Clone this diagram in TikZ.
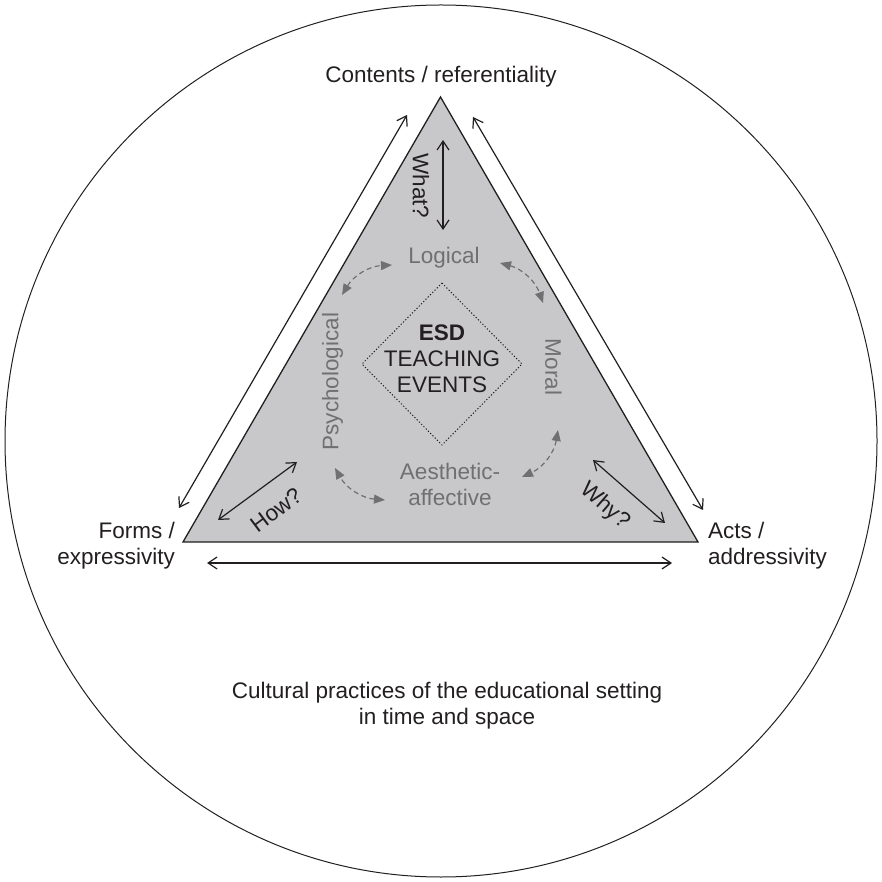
\documentclass[tikz,border=0pt]{standalone}
\usepackage{fontspec}
\setmainfont{Liberation Sans}
\usetikzlibrary{arrows.meta}
\definecolor{trifill}{RGB}{200,200,202}
\definecolor{labgray}{RGB}{112,112,112}
\definecolor{inkdark}{RGB}{35,31,32}
\tikzset{
lab/.style={font=\fontsize{22.5}{26}\selectfont,text=inkdark,inner sep=0pt},
soft/.style={lab,text=labgray},
twoway/.style={draw=inkdark,line width=1.2pt,{Straight Barb[length=9pt,width=12pt]}-{Straight Barb[length=9pt,width=12pt]}},
linkway/.style={draw=labgray,line width=1.2pt,dash pattern=on 5pt off 3.5pt,{Triangle[length=11pt,width=9pt]}-{Triangle[length=11pt,width=9pt]}}
}
\begin{document}
\begin{tikzpicture}[x=1pt,y=1pt]
\useasboundingbox(0,0)rectangle(882,881);
\draw[inkdark,line width=1pt](441,440)circle(436);
\coordinate(top)at(440.5,784);
\coordinate(bl)at(183,339);
\coordinate(br)at(698,339);
\draw[inkdark,line width=1.3pt,fill=trifill](top)--(bl)--(br)--cycle;
\coordinate(lo)at(179,373);\coordinate(lu)at(407,766);
\coordinate(ru)at(473,764);\coordinate(ro)at(703,371);
\coordinate(bo)at(207,318);\coordinate(be)at(672,318);
\draw[twoway](lo)--(lu);
\draw[twoway](ru)--(ro);
\draw[twoway](bo)--(be);
\node[lab,anchor=base](cont)at(441,798){Contents / referentiality};
\node[lab,align=right,anchor=north east](forms)at(175,359){Forms /\\expressivity};
\node[lab,align=left,anchor=north west](acts)at(708,359){Acts /\\addressivity};
\node[lab,align=center,anchor=north](cult)at(447,199){Cultural practices of the educational setting\\in time and space};
\coordinate(wa)at(443,741);\coordinate(wb)at(443,651);
\coordinate(ha)at(218,361);\coordinate(hb)at(297,419);
\coordinate(ya)at(593,421);\coordinate(yb)at(665,358);
\draw[twoway](wa)--(wb);
\draw[twoway](ha)--(hb);
\draw[twoway](ya)--(yb);
\node[lab,rotate=-90](what)at(421,695){What?};
\node[lab,rotate=37](how)at(276,371){How?};
\node[lab,rotate=-41](why)at(605,375){Why?};
\node[soft](logi)at(444,623.5){Logical};
\node[soft,rotate=90](psy)at(332.5,499.5){Psychological};
\node[soft,rotate=-90](moral)at(553.5,514){Moral};
\node[soft,align=center,anchor=north](aes)at(450,418){Aesthetic-\\affective};
\coordinate(dt)at(442,598);\coordinate(dr)at(522,517);
\coordinate(db)at(442,436);\coordinate(dl)at(362,517);
\draw[inkdark,line width=1pt,dash pattern=on 1.2pt off 2pt](dt)--(dr)--(db)--(dl)--cycle;
\node[lab,align=center,anchor=north](esd)at(442,556){\textbf{ESD}\\TEACHING\\EVENTS};
\coordinate(pa)at(342,586);\coordinate(pb)at(392,616);
\coordinate(ma)at(500,618);\coordinate(mb)at(543,578);
\coordinate(na)at(558,451);\coordinate(nb)at(522,404);
\coordinate(aa)at(385,381);\coordinate(ab)at(335,413);
\draw[linkway](pa)to[bend left=28](pb);
\draw[linkway](ma)to[bend left=28](mb);
\draw[linkway](na)to[bend left=28](nb);
\draw[linkway](aa)to[bend left=28](ab);
\end{tikzpicture}
\end{document}
